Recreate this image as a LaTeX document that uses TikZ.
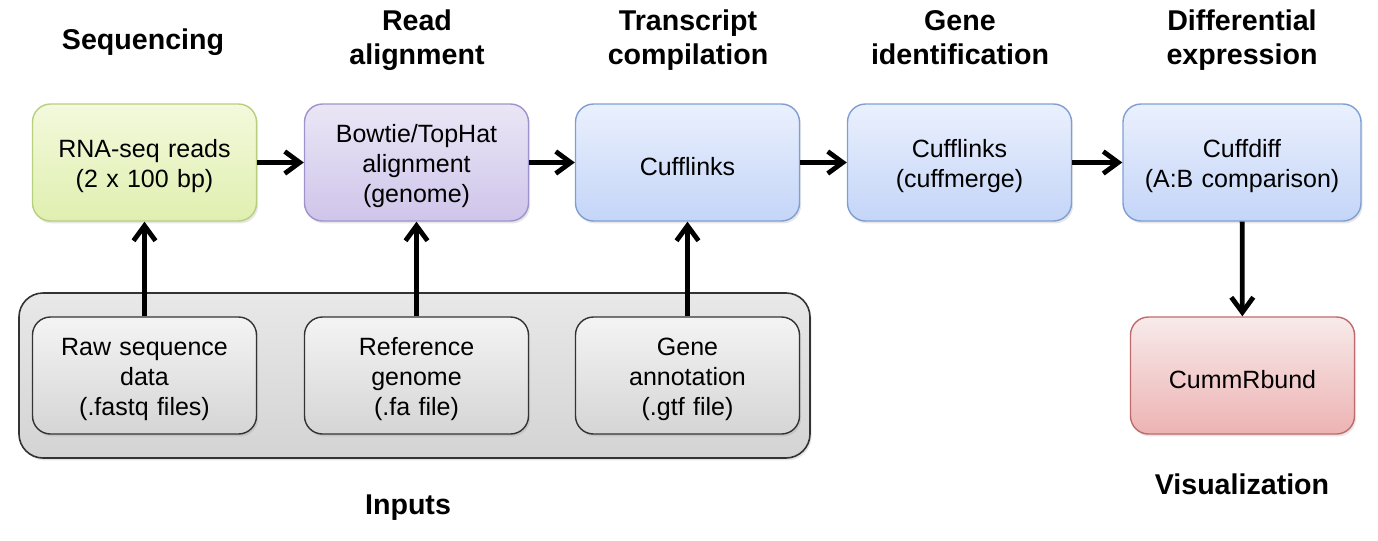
\documentclass[tikz,border=0pt]{standalone}
\usepackage{fontspec}
\setmainfont{Liberation Sans}
\usetikzlibrary{arrows.meta,shadows}

\definecolor{greentop}{HTML}{F3F9DC}
\definecolor{greenbot}{HTML}{E0EFB0}
\definecolor{greenline}{HTML}{B8CF7E}
\definecolor{purpletop}{HTML}{EAE6F5}
\definecolor{purplebot}{HTML}{CFC5EA}
\definecolor{purpleline}{HTML}{A092CC}
\definecolor{bluetop}{HTML}{EAF0FD}
\definecolor{bluebot}{HTML}{C4D5F8}
\definecolor{blueline}{HTML}{7F9FD4}
\definecolor{redtop}{HTML}{F8EAEA}
\definecolor{redbot}{HTML}{EDB3B3}
\definecolor{redline}{HTML}{C06B6B}
\definecolor{graytop}{HTML}{F4F4F4}
\definecolor{graybot}{HTML}{D5D5D5}

\tikzset{
  stagebox/.style={draw, line width=0.7pt, rounded corners=9pt, align=center,
    minimum width=112pt, minimum height=58.5pt, inner sep=2pt, text width=104pt,
    font=\fontsize{12.5}{15}\selectfont,
    execute at begin node={\rule{0pt}{13pt}},
    drop shadow={shadow xshift=0.8pt, shadow yshift=-1.2pt, opacity=0.2}},
  greenbox/.style={stagebox, draw=greenline, top color=greentop, bottom color=greenbot},
  purplebox/.style={stagebox, draw=purpleline, top color=purpletop, bottom color=purplebot},
  bluebox/.style={stagebox, draw=blueline, top color=bluetop, bottom color=bluebot},
  redbox/.style={stagebox, draw=redline, top color=redtop, bottom color=redbot},
  inputbox/.style={stagebox, draw=black!80, top color=graytop, bottom color=graybot},
  heading/.style={align=center, text depth=3.5pt, inner sep=0pt,
    font=\fontsize{14.3}{17}\selectfont\bfseries},
  flow/.style={line width=2.4pt, -{Straight Barb[length=7.5pt,width=11pt,line width=2.4pt]}}
}

\begin{document}
\begin{tikzpicture}[x=0.5pt,y=-0.5pt]

    \useasboundingbox (0,0) rectangle (1378,541);

    % Inputs panel
    \filldraw[draw=black!80, line width=0.8pt, rounded corners=12pt,
      top color=black!9, bottom color=black!17,
      drop shadow={shadow xshift=0.8pt, shadow yshift=-1.2pt, opacity=0.2}]
      (19,293) rectangle (810,458);

    % Headings
    \node[heading] (hseq) at (143,43) {Sequencing};
    \node[heading] (hread) at (417,41) {Read\\alignment};
    \node[heading] (htrans) at (688,41) {Transcript\\compilation};
    \node[heading] (hgene) at (960,41) {Gene\\identification};
    \node[heading] (hdiff) at (1242,41) {Differential\\expression};
    \node[heading] (hin) at (408,508) {Inputs};
    \node[heading] (hvis) at (1242,488) {Visualization};

    % Pipeline
    \node[greenbox] (reads) at (144.5,162.5) {RNA-seq reads\\(2 x 100 bp)};
    \node[purplebox] (bowtie) at (416.5,162.5) {Bowtie/TopHat\\alignment\\(genome)};
    \node[bluebox] (cufflinks) at (687.5,162.5) {Cufflinks};
    \node[bluebox] (cuffmerge) at (959.5,162.5) {Cufflinks\\(cuffmerge)};
    \node[bluebox, minimum width=119pt, text width=111pt] (cuffdiff) at (1242,162.5) {Cuffdiff\\(A:B comparison)};
    \node[redbox] (cummrbund) at (1242.5,375.5) {CummRbund};

    % Inputs
    \node[inputbox] (raw) at (144.5,375.5) {Raw sequence\\data\\(.fastq files)};
    \node[inputbox] (refgen) at (416.5,375.5) {Reference\\genome\\(.fa file)};
    \node[inputbox] (annot) at (687.5,375.5) {Gene\\annotation\\(.gtf file)};

    % Arrows
    \draw[flow] (reads) -- (bowtie);
    \draw[flow] (bowtie) -- (cufflinks);
    \draw[flow] (cufflinks) -- (cuffmerge);
    \draw[flow] (cuffmerge) -- (cuffdiff);
    \draw[flow] (cuffdiff) -- (cummrbund);
    \draw[flow] (raw) -- (reads);
    \draw[flow] (refgen) -- (bowtie);
    \draw[flow] (annot) -- (cufflinks);

\end{tikzpicture}
\end{document}
